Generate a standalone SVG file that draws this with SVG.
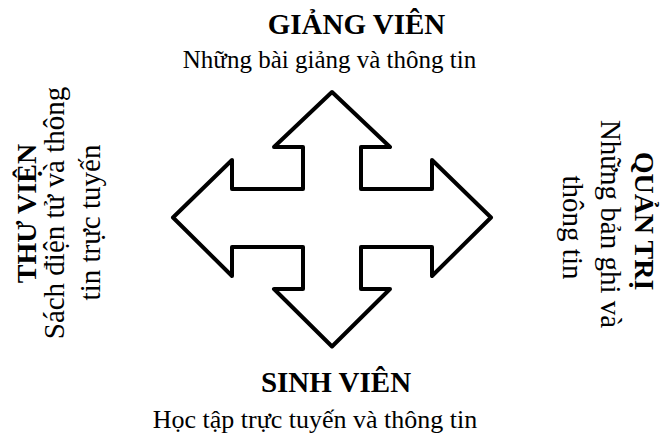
<svg xmlns="http://www.w3.org/2000/svg" width="660" height="435" viewBox="0 0 660 435">
  <style>
    .title { font-family: "Liberation Serif", "Times New Roman", serif; font-weight: bold; font-size: 29px; fill: #000; text-anchor: middle; }
    .side-title { font-size: 28px; }
    .desc { font-family: "Liberation Serif", "Times New Roman", serif; font-size: 25px; fill: #000; text-anchor: middle; }
    .side-desc { font-size: 29px; }
    .arrow { fill: #fff; stroke: #000; stroke-width: 4; stroke-linejoin: round; }
  </style>
  <rect width="660" height="435" fill="#fff"/>
  <g id="connectors">
    <!-- four-way arrow centred at (332,217.5) -->
    <path class="arrow" d="M332,92 L390,147 L361,147 L361,189 L432,189 L432,160 L491,217.5 L432,276 L432,247 L361,247 L361,289 L390,289 L332,346.5 L274,289 L303,289 L303,247 L232,247 L232,276 L173,217.5 L232,160 L232,189 L303,189 L303,147 L274,147 Z"/>
  </g>
  <g id="giang-vien">
    <text class="title" x="356.5" y="34">GIẢNG VIÊN</text>
    <text class="desc" x="329.5" y="68">Những bài giảng và thông tin</text>
  </g>
  <g id="sinh-vien">
    <text class="title" x="336" y="392">SINH VIÊN</text>
    <text class="desc" x="315" y="428" style="font-size:26px">Học tập trực tuyến và thông tin</text>
  </g>
  <!-- left block reads bottom to top -->
  <g id="thu-vien" transform="rotate(-90)">
    <text class="title side-title" x="-213.5" y="36">THƯ VIỆN</text>
    <text class="desc side-desc" x="-213" y="63.5">Sách điện tử và thông</text>
    <text class="desc side-desc" x="-222.5" y="100">tin trực tuyến</text>
  </g>
  <!-- right block reads top to bottom -->
  <g id="quan-tri" transform="rotate(90)">
    <text class="title side-title" x="221" y="-635">QUẢN TRỊ</text>
    <text class="desc side-desc" x="224" y="-601">Những bản ghi và</text>
    <text class="desc side-desc" x="227.5" y="-563">thông tin</text>
  </g>
</svg>
